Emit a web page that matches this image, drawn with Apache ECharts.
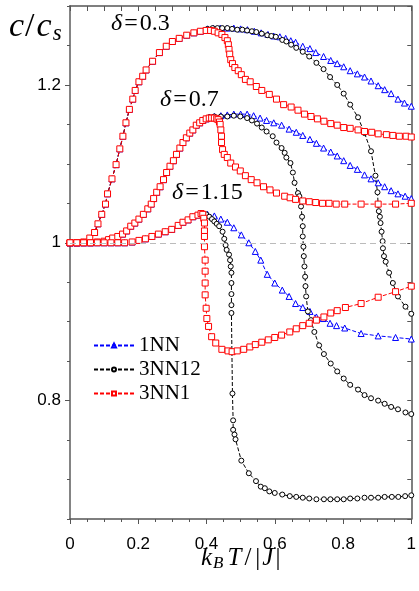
<!DOCTYPE html>
<html><head><meta charset="utf-8">
<script src="https://cdn.jsdelivr.net/npm/echarts@6/dist/echarts.min.js"></script>
<style>html,body{margin:0;padding:0;background:#fff}#c{width:419px;height:591px}</style>
</head><body><div id="c"></div>
<script>
// x ticks and y labels
const xTickLabels = ['0','0.2','0.4','0.6','0.8','1'];
const yLabelValues = [0.8, 1, 1.2];
const legendNames = ['1NN','3NN12','3NN1'];

// shared low-T parts (all three models coincide)
const rise03 = [[0,1.000],[0.02,1.000],[0.04,1.001],[0.058,1.006],[0.072,1.013],[0.082,1.024],[0.093,1.036],[0.104,1.049],[0.110,1.062],[0.123,1.081],[0.135,1.099],[0.146,1.119],[0.155,1.135],[0.164,1.152],[0.174,1.169],[0.184,1.182],[0.191,1.193],[0.202,1.204],[0.213,1.211],[0.223,1.219],[0.242,1.230],[0.262,1.241],[0.282,1.249],[0.300,1.255],[0.320,1.259],[0.342,1.263],[0.363,1.266],[0.382,1.268]];
const rise07 = [[0,1.0],[0.02,1.0],[0.04,1.0],[0.06,1.0],[0.08,1.001],[0.10,1.002],[0.113,1.004],[0.125,1.006],[0.14,1.008],[0.154,1.011],[0.166,1.015],[0.178,1.021],[0.19,1.025],[0.202,1.030],[0.215,1.036],[0.228,1.043],[0.238,1.049],[0.245,1.056],[0.254,1.064],[0.264,1.071],[0.274,1.080],[0.283,1.089],[0.293,1.097],[0.303,1.104],[0.312,1.112],[0.322,1.120],[0.331,1.127],[0.341,1.133],[0.351,1.139],[0.360,1.143],[0.370,1.149],[0.380,1.152],[0.389,1.155],[0.399,1.157]];
const rise115 = [[0,1.0],[0.02,1.0],[0.04,1.0],[0.06,1.0],[0.08,1.0],[0.10,1.0],[0.12,1.0],[0.14,1.0],[0.16,1.0],[0.182,1.001],[0.202,1.003],[0.221,1.005],[0.240,1.008],[0.259,1.011],[0.279,1.014],[0.298,1.017],[0.317,1.022],[0.331,1.026],[0.346,1.029],[0.360,1.033],[0.375,1.035],[0.384,1.037]];

// high-T tails, 1NN
const nn1_03 = [[0.403,1.271],[0.42,1.272],[0.44,1.272],[0.46,1.272],[0.48,1.272],[0.50,1.271],[0.52,1.270],[0.54,1.268],[0.56,1.266],[0.58,1.264],[0.597,1.262],[0.615,1.261],[0.632,1.259],[0.647,1.256],[0.661,1.254],[0.682,1.249],[0.703,1.246],[0.720,1.241],[0.743,1.236],[0.764,1.231],[0.783,1.227],[0.802,1.223],[0.821,1.218],[0.842,1.214],[0.863,1.210],[0.882,1.205],[0.903,1.199],[0.922,1.194],[0.941,1.189],[0.961,1.182],[0.980,1.177],[1.0,1.173]];
const nn1_07 = [[0.408,1.159],[0.423,1.160],[0.442,1.161],[0.461,1.162],[0.480,1.163],[0.50,1.163],[0.519,1.163],[0.538,1.161],[0.557,1.158],[0.576,1.155],[0.597,1.152],[0.620,1.149],[0.642,1.144],[0.663,1.140],[0.682,1.136],[0.703,1.131],[0.722,1.126],[0.743,1.120],[0.764,1.115],[0.783,1.110],[0.802,1.104],[0.821,1.098],[0.842,1.093],[0.863,1.086],[0.882,1.081],[0.903,1.076],[0.922,1.071],[0.941,1.066],[0.961,1.062],[0.982,1.059],[1.0,1.056]];
const nn1_115 = [[0.403,1.036],[0.423,1.034],[0.442,1.030],[0.461,1.026],[0.480,1.019],[0.502,1.010],[0.524,1.000],[0.543,0.989],[0.559,0.978],[0.578,0.960],[0.600,0.949],[0.622,0.940],[0.642,0.932],[0.661,0.923],[0.682,0.918],[0.703,0.913],[0.722,0.906],[0.742,0.904],[0.762,0.898],[0.781,0.895],[0.805,0.892],[0.853,0.885],[0.903,0.882],[0.954,0.880],[1.0,0.878]];

// 3NN12
const nn312_03 = [[0.403,1.271],[0.418,1.272],[0.432,1.272],[0.446,1.272],[0.461,1.272],[0.475,1.271],[0.490,1.270],[0.505,1.270],[0.519,1.269],[0.533,1.268],[0.546,1.267],[0.562,1.265],[0.578,1.263],[0.590,1.262],[0.603,1.261],[0.622,1.257],[0.634,1.255],[0.648,1.251],[0.663,1.247],[0.682,1.242],[0.701,1.236],[0.722,1.228],[0.743,1.220],[0.762,1.210],[0.783,1.200],[0.802,1.189],[0.821,1.175],[0.844,1.159],[0.863,1.139],[0.882,1.116],[0.895,1.085],[0.901,1.064],[0.903,1.048],[0.905,1.040],[0.908,1.033],[0.910,1.025],[0.913,1.014],[0.916,1.002],[0.917,0.993],[0.920,0.983],[0.925,0.976],[0.935,0.962],[0.946,0.949],[0.961,0.932],[0.983,0.919],[1.0,0.910]];
const nn312_07 = [[0.408,1.159],[0.423,1.160],[0.442,1.160],[0.461,1.160],[0.480,1.161],[0.499,1.160],[0.519,1.158],[0.533,1.155],[0.548,1.151],[0.562,1.146],[0.576,1.141],[0.594,1.135],[0.605,1.127],[0.620,1.120],[0.629,1.114],[0.634,1.108],[0.646,1.101],[0.653,1.089],[0.658,1.076],[0.668,1.063],[0.672,1.059],[0.677,1.046],[0.680,1.033],[0.682,1.021],[0.682,1.008],[0.684,0.995],[0.685,0.983],[0.687,0.970],[0.689,0.957],[0.690,0.945],[0.692,0.932],[0.697,0.913],[0.706,0.902],[0.716,0.887],[0.730,0.870],[0.744,0.859],[0.764,0.847],[0.783,0.837],[0.802,0.828],[0.821,0.820],[0.844,0.814],[0.863,0.807],[0.882,0.803],[0.903,0.800],[0.922,0.796],[0.941,0.792],[0.961,0.789],[0.983,0.785],[1.0,0.783]];
const nn312_115 = [[0.399,1.036],[0.408,1.033],[0.416,1.030],[0.423,1.027],[0.430,1.024],[0.437,1.021],[0.447,1.014],[0.452,1.005],[0.456,0.997],[0.459,0.991],[0.466,0.985],[0.469,0.978],[0.471,0.970],[0.473,0.962],[0.473,0.949],[0.473,0.935],[0.473,0.921],[0.473,0.911],[0.476,0.809],[0.478,0.775],[0.478,0.763],[0.482,0.757],[0.485,0.751],[0.502,0.724],[0.524,0.708],[0.545,0.698],[0.559,0.691],[0.571,0.689],[0.584,0.685],[0.600,0.683],[0.622,0.681],[0.644,0.679],[0.663,0.678],[0.682,0.677],[0.701,0.676],[0.722,0.675],[0.744,0.675],[0.763,0.675],[0.783,0.675],[0.802,0.675],[0.821,0.676],[0.842,0.676],[0.863,0.677],[0.882,0.677],[0.903,0.677],[0.922,0.678],[0.943,0.678],[0.962,0.678],[0.982,0.679],[1.0,0.680]];

// 3NN1
const nn31_03 = [[0.399,1.269],[0.412,1.269],[0.423,1.268],[0.434,1.266],[0.445,1.264],[0.454,1.260],[0.461,1.256],[0.464,1.251],[0.466,1.245],[0.468,1.239],[0.471,1.232],[0.476,1.227],[0.483,1.222],[0.493,1.218],[0.502,1.213],[0.514,1.207],[0.528,1.204],[0.546,1.198],[0.562,1.193],[0.584,1.188],[0.605,1.182],[0.626,1.175],[0.648,1.172],[0.668,1.168],[0.687,1.163],[0.706,1.160],[0.725,1.157],[0.744,1.154],[0.764,1.151],[0.783,1.149],[0.802,1.146],[0.821,1.145],[0.844,1.143],[0.863,1.141],[0.884,1.140],[0.903,1.138],[0.927,1.137],[0.946,1.136],[0.965,1.135],[0.985,1.135],[1.0,1.134]];
const nn31_07 = [[0.408,1.158],[0.415,1.158],[0.423,1.158],[0.430,1.157],[0.434,1.156],[0.438,1.153],[0.440,1.150],[0.442,1.143],[0.444,1.135],[0.444,1.127],[0.447,1.118],[0.452,1.112],[0.461,1.108],[0.471,1.101],[0.485,1.096],[0.499,1.091],[0.514,1.085],[0.531,1.080],[0.548,1.076],[0.567,1.071],[0.586,1.067],[0.605,1.063],[0.629,1.059],[0.645,1.057],[0.661,1.055],[0.682,1.053],[0.701,1.052],[0.720,1.051],[0.740,1.050],[0.759,1.050],[0.780,1.049],[0.805,1.049],[0.853,1.049],[0.903,1.049],[0.954,1.049],[1.0,1.050]];
const nn31_115 = [[0.389,1.036],[0.392,1.031],[0.394,1.025],[0.394,1.015],[0.394,1.008],[0.394,0.995],[0.396,0.978],[0.396,0.964],[0.396,0.949],[0.396,0.934],[0.399,0.917],[0.401,0.904],[0.406,0.894],[0.415,0.881],[0.427,0.873],[0.445,0.865],[0.463,0.863],[0.475,0.862],[0.490,0.863],[0.509,0.865],[0.527,0.868],[0.543,0.871],[0.562,0.874],[0.581,0.877],[0.600,0.880],[0.620,0.883],[0.644,0.887],[0.663,0.891],[0.682,0.895],[0.701,0.898],[0.722,0.902],[0.744,0.906],[0.764,0.911],[0.783,0.914],[0.807,0.918],[0.853,0.923],[0.903,0.931],[0.954,0.938],[1.0,0.945]];

const chart = echarts.init(document.getElementById('c'), null, {renderer:'canvas'});
const SERIF = "'Liberation Serif'";
const sans = "'Liberation Sans', Arial, sans-serif";
const axisCol = '#555';

function tok(size, italic, pad) {
  const o = {fontFamily:SERIF, fontSize:size, fontStyle: italic ? 'italic' : 'normal',
    font:(italic ? 'italic ' : '') + size + 'px ' + SERIF, fill:'#000', color:'#000'};
  if (pad) o.padding = pad;
  return o;
}

const styles = {
  '1NN':   {color:'#0000ff', symbol:'triangle', size:6},
  '3NN12': {color:'#000000', symbol:'circle', size:5},
  '3NN1':  {color:'#ff0000', symbol:'rect', size:6}
};
function mk(name, data, extra) {
  const s = styles[name];
  return Object.assign({
    name, type:'line', data, symbol:s.symbol, symbolSize:s.size, showSymbol:true,
    xAxisIndex:0, yAxisIndex:0,
    lineStyle:{color:s.color, width:1, type:[4,2]},
    itemStyle:{color:'#fff', borderColor:s.color, borderWidth:1},
    animation:false, silent:true
  }, extra || {});
}
const series = [
  mk('1NN', rise03.concat(nn1_03), {markLine:{silent:true, symbol:'none', label:{show:false},
      lineStyle:{color:'#bbbbbb', type:[6,4], width:1}, data:[{yAxis:1}], animation:false}, z:1}),
  mk('1NN', rise07.concat(nn1_07)),
  mk('1NN', rise115.concat(nn1_115)),
  mk('3NN12', rise03.concat(nn312_03)),
  mk('3NN12', rise07.concat(nn312_07)),
  mk('3NN12', rise115.concat(nn312_115)),
  mk('3NN1', rise03.concat(nn31_03)),
  mk('3NN1', rise07.concat(nn31_07)),
  mk('3NN1', rise115.concat(nn31_115))
];

chart.setOption({
  backgroundColor:'#fff',
  animation:false,
  grid:{left:70, right:2, top:6, bottom:72, containLabel:false},
  legend:{data:legendNames, orient:'vertical', left:88, top:330, itemWidth:40, itemHeight:5, itemGap:3,
    textStyle:{fontFamily:SERIF, fontSize:21, color:'#000'}, selectedMode:false},
  xAxis:[
    {type:'value', min:0, max:1, interval:0.2, position:'bottom',
     axisLine:{show:true, lineStyle:{color:axisCol, width:1.5}},
     axisTick:{show:true, inside:false, length:5, lineStyle:{color:axisCol, width:1}},
     minorTick:{show:true, splitNumber:4, length:3, lineStyle:{color:axisCol, width:1}},
     splitLine:{show:false},
     axisLabel:{margin:17, fontFamily:sans, fontSize:17, color:'#000',
       formatter:(v)=>xTickLabels[Math.round(v/0.2)]}},
    {type:'value', min:0, max:1, interval:0.05, position:'top',
     axisLine:{show:true, lineStyle:{color:axisCol, width:1.5}},
     axisTick:{show:true, inside:true, length:5, lineStyle:{color:axisCol, width:1}},
     splitLine:{show:false}, axisLabel:{show:false}}
  ],
  yAxis:[
    {type:'value', min:0.65, max:1.3, interval:0.05, position:'left',
     axisLine:{show:true, lineStyle:{color:'#777', width:1.8}},
     axisTick:{show:true, inside:false, length:3, lineStyle:{color:axisCol, width:1}},
     splitLine:{show:false},
     axisLabel:{show:false}},
    {type:'value', min:0.65, max:1.3, position:'left',
     axisLine:{show:false},
     axisTick:{show:true, inside:false, length:5, customValues:yLabelValues, lineStyle:{color:axisCol, width:1}},
     splitLine:{show:false},
     axisLabel:{show:true, margin:9, customValues:yLabelValues, fontFamily:sans, fontSize:17, color:'#000',
       formatter:(v)=>String(Math.round(v*10)/10)}},
    {type:'value', min:0.65, max:1.3, interval:0.05, position:'right',
     axisLine:{show:true, lineStyle:{color:axisCol, width:1.5}},
     axisTick:{show:true, inside:true, length:4, lineStyle:{color:axisCol, width:1}},
     splitLine:{show:false}, axisLabel:{show:false}}
  ],
  graphic:[
    {type:'text', left:9, top:10, silent:true, style:{
      text:'{i|c}{n|/}{i|c}{s|s}', rich:{
        i:tok(34, true), n:tok(34, false, [0,2,0,1]), s:tok(23, true, [14,0,0,1])}}},
    {type:'text', left:201, top:546, silent:true, style:{
      text:'{i|k}{s|B}{t|T}{n|/}{b||}{i|J}{b||}', rich:{
        i:tok(25, true), t:tok(25, true, [0,3,0,4]), n:tok(25, false, [0,2,0,0]),
        b:tok(25, false, [0,2,0,2]), s:tok(17, true, [10,0,0,1])}}},
    {type:'text', left:111, top:12, silent:true, style:{
      text:'{i|δ}{n|=}{d|0.3}', rich:{
        i:tok(24, true), n:tok(24, false, [0,2,0,2]), d:tok(24, false)}}},
    {type:'text', left:160, top:88, silent:true, style:{
      text:'{i|δ}{n|=}{d|0.7}', rich:{
        i:tok(24, true), n:tok(24, false, [0,2,0,2]), d:tok(24, false)}}},
    {type:'text', left:172, top:181, silent:true, style:{
      text:'{i|δ}{n|=}{d|1.15}', rich:{
        i:tok(24, true), n:tok(24, false, [0,2,0,2]), d:tok(24, false)}}}
  ],
  series
});
</script></body></html>
